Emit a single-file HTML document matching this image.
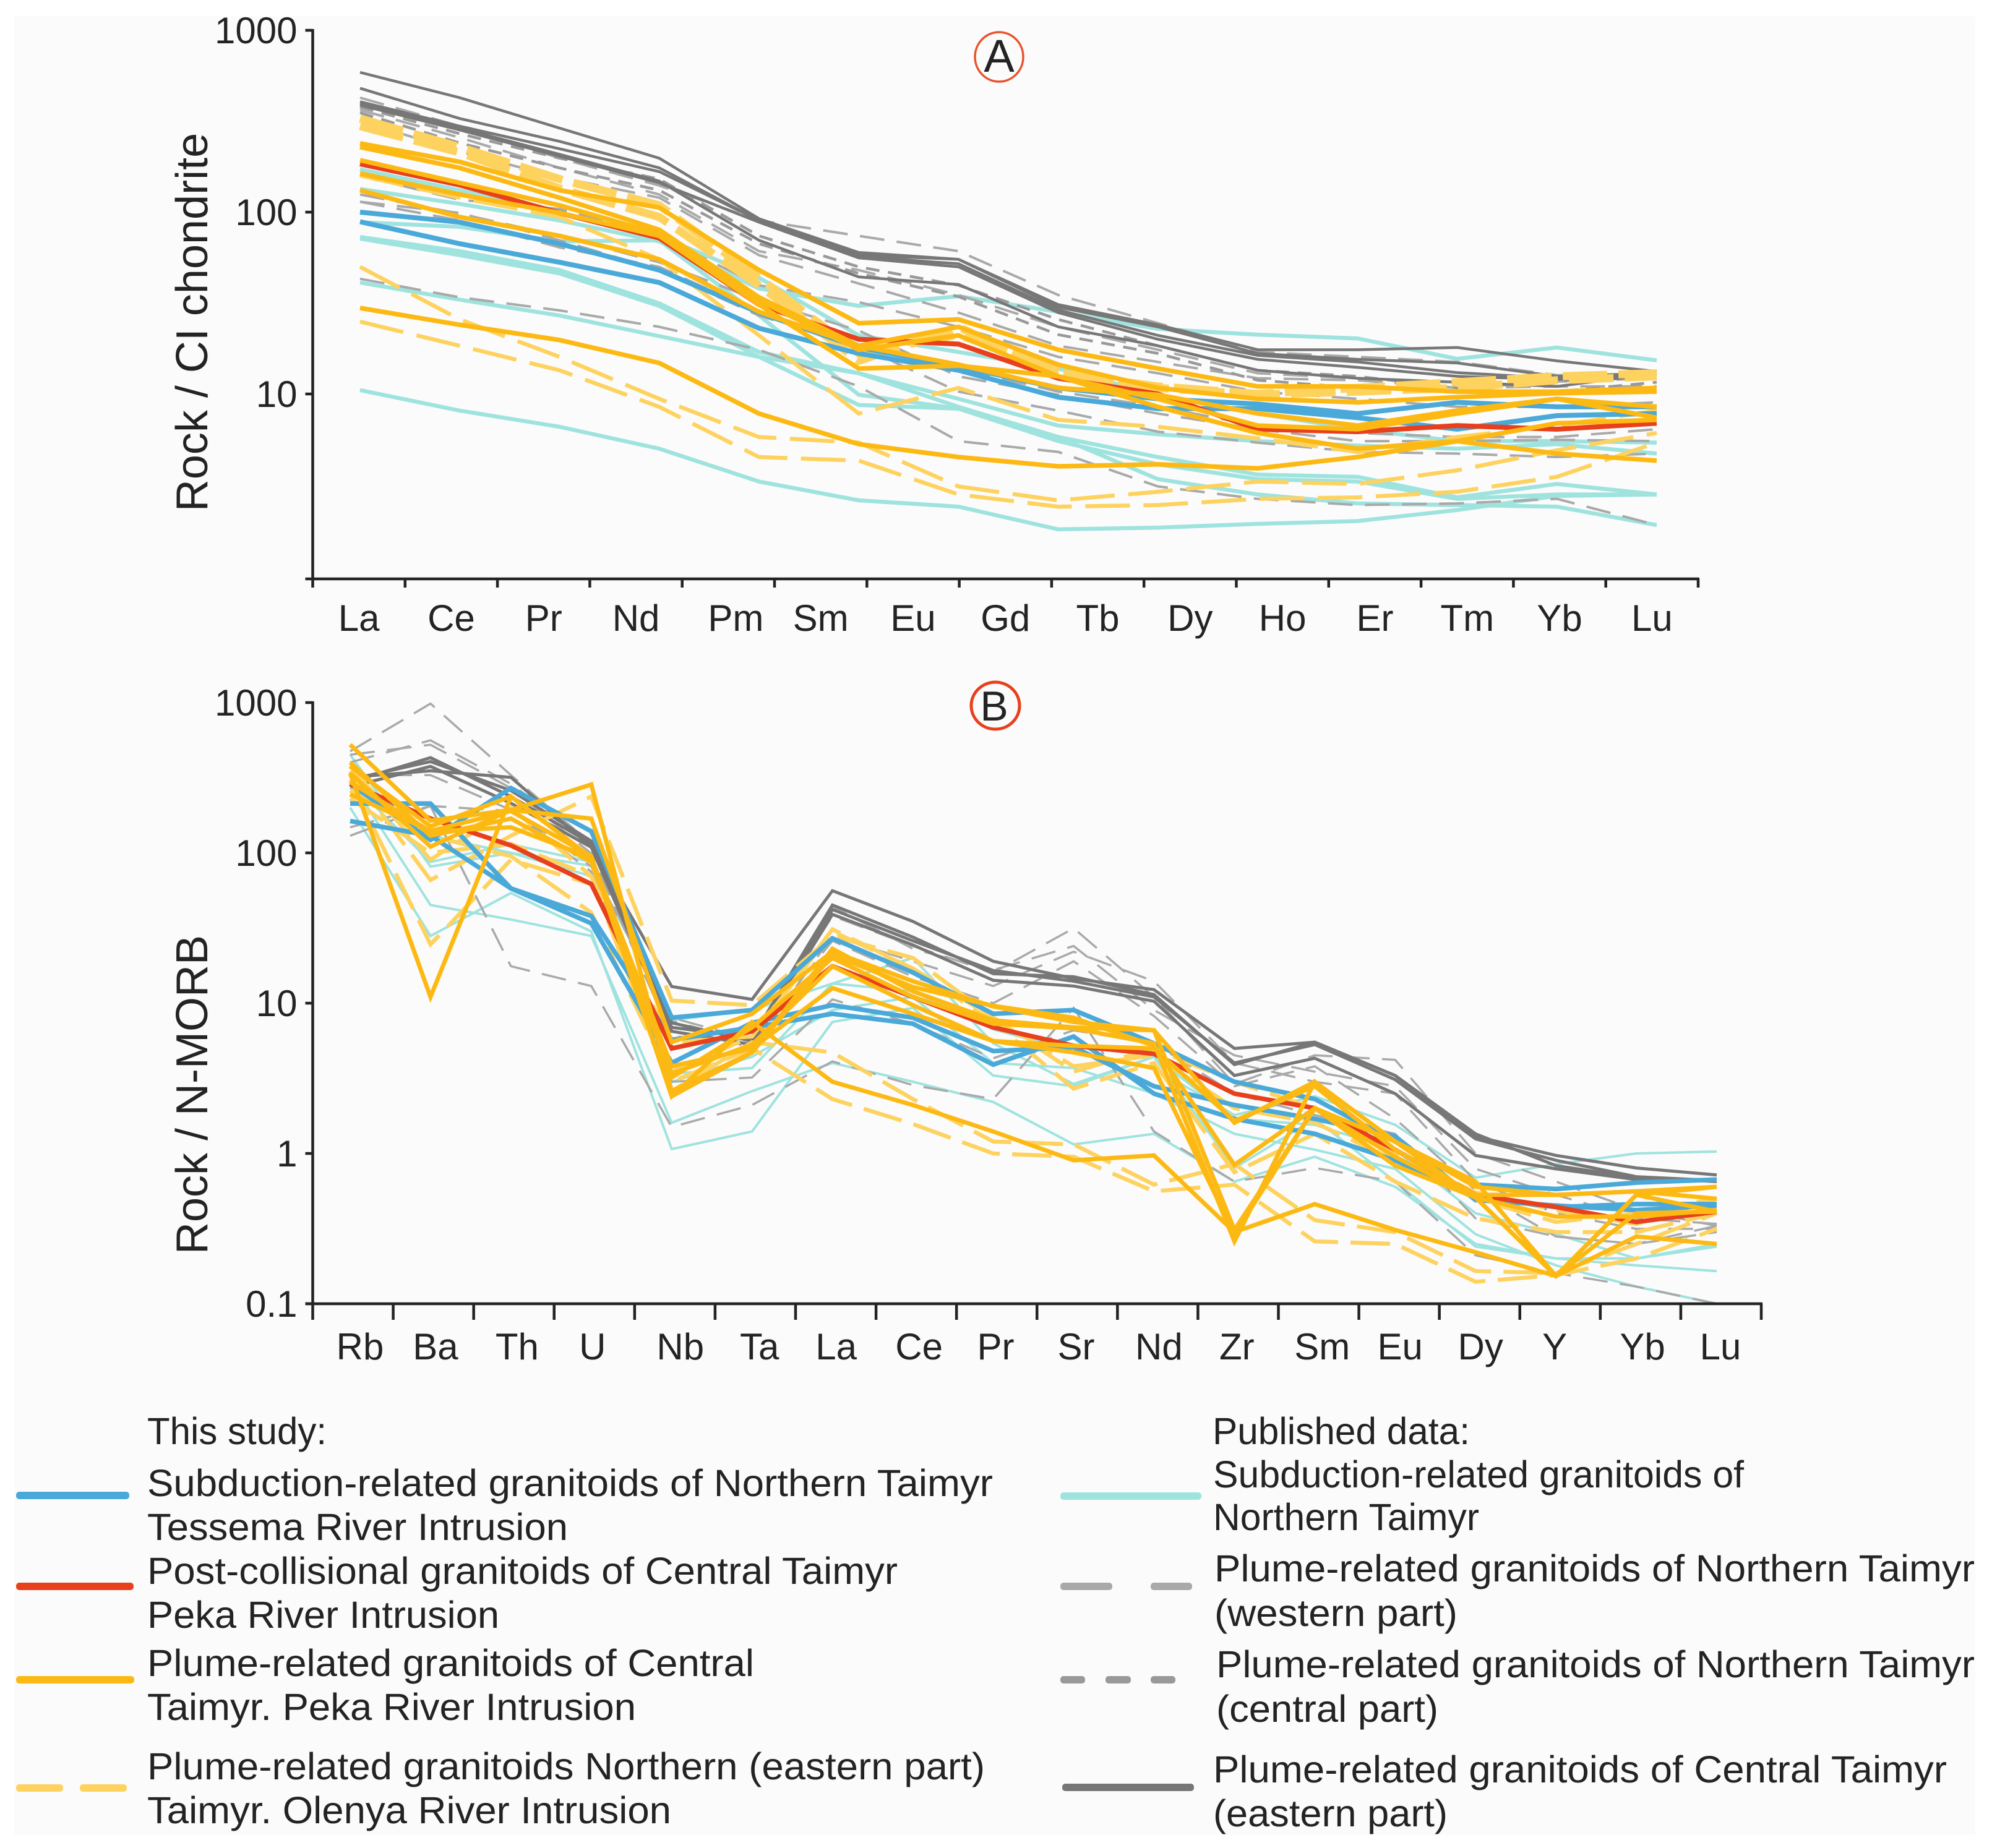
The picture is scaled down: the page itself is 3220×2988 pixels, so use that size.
<!DOCTYPE html>
<html lang="en">
<head>
<meta charset="utf-8">
<title>REE and trace element diagrams</title>
<style>
html,body{margin:0;padding:0;background:#fff;}
svg{display:block;}
text{font-family:"Liberation Sans",sans-serif;fill:#232323;}
</style>
</head>
<body>
<svg id="figure" xmlns="http://www.w3.org/2000/svg" width="3220" height="2988" viewBox="0 0 3220 2988">
  <rect x="23" y="26" width="3170" height="2941" fill="#fbfbfb"/>
  <g id="chart-a"></g>
  <g id="chart-b"></g>

  <g>
    <ellipse cx="1615" cy="92" rx="39" ry="40" fill="none" stroke="#e8532b" stroke-width="3.5"/>
    <text x="1615" y="116" font-size="74" text-anchor="middle">A</text>
  </g>
  <g>
    <ellipse cx="1609" cy="1141" rx="39" ry="38" fill="none" stroke="#e8401c" stroke-width="5"/>
    <text x="1607" y="1165" font-size="68" text-anchor="middle">B</text>
  </g>

  <g font-size="61">
    <text x="238" y="2335" textLength="290" lengthAdjust="spacingAndGlyphs">This study:</text>
    <rect x="26" y="2412" width="183" height="12" rx="5" fill="#4aa9d8"/>
    <text x="238" y="2419" textLength="1367" lengthAdjust="spacingAndGlyphs">Subduction-related granitoids of Northern Taimyr</text>
    <text x="238" y="2490" textLength="680" lengthAdjust="spacingAndGlyphs">Tessema River Intrusion</text>
    <rect x="26" y="2559" width="190" height="12" rx="5" fill="#e8401c"/>
    <text x="238" y="2561" textLength="1213" lengthAdjust="spacingAndGlyphs">Post-collisional granitoids of Central Taimyr</text>
    <text x="238" y="2632" textLength="569" lengthAdjust="spacingAndGlyphs">Peka River Intrusion</text>
    <rect x="26" y="2710" width="191" height="12" rx="5" fill="#fdb913"/>
    <text x="238" y="2710" textLength="981" lengthAdjust="spacingAndGlyphs">Plume-related granitoids of Central</text>
    <text x="238" y="2781" textLength="790" lengthAdjust="spacingAndGlyphs">Taimyr. Peka River Intrusion</text>
    <rect x="26" y="2885" width="76" height="12" rx="5" fill="#fdd25f"/>
    <rect x="129" y="2885" width="76" height="12" rx="5" fill="#fdd25f"/>
    <text x="238" y="2877" textLength="1354" lengthAdjust="spacingAndGlyphs">Plume-related granitoids Northern (eastern part)</text>
    <text x="238" y="2948" textLength="847" lengthAdjust="spacingAndGlyphs">Taimyr. Olenya River Intrusion</text>

    <text x="1960" y="2335" textLength="416" lengthAdjust="spacingAndGlyphs">Published data:</text>
    <rect x="1714" y="2413" width="228" height="12" rx="5" fill="#9fe3df"/>
    <text x="1961" y="2405" textLength="858" lengthAdjust="spacingAndGlyphs">Subduction-related granitoids of</text>
    <text x="1961" y="2474" textLength="430" lengthAdjust="spacingAndGlyphs">Northern Taimyr</text>
    <rect x="1714" y="2559" width="84" height="12" rx="5" fill="#a9a9a9"/>
    <rect x="1860" y="2559" width="67" height="12" rx="5" fill="#a9a9a9"/>
    <text x="1963" y="2557" textLength="1229" lengthAdjust="spacingAndGlyphs">Plume-related granitoids of Northern Taimyr</text>
    <text x="1963" y="2629" textLength="393" lengthAdjust="spacingAndGlyphs">(western part)</text>
    <rect x="1714" y="2710" width="40" height="12" rx="5" fill="#999"/>
    <rect x="1787" y="2710" width="41" height="12" rx="5" fill="#999"/>
    <rect x="1860" y="2710" width="40" height="12" rx="5" fill="#999"/>
    <text x="1966" y="2712" textLength="1226" lengthAdjust="spacingAndGlyphs">Plume-related granitoids of Northern Taimyr</text>
    <text x="1966" y="2784" textLength="359" lengthAdjust="spacingAndGlyphs">(central part)</text>
    <rect x="1717" y="2884" width="213" height="12" rx="5" fill="#777"/>
    <text x="1961" y="2882" textLength="1186" lengthAdjust="spacingAndGlyphs">Plume-related granitoids of Central Taimyr</text>
    <text x="1961" y="2953" textLength="379" lengthAdjust="spacingAndGlyphs">(eastern part)</text>
  </g>
</svg>

<script>
// ---------- Panel A: Rock / CI chondrite ----------
const aTickLabels = ["La","Ce","Pr","Nd","Pm","Sm","Eu","Gd","Tb","Dy","Ho","Er","Tm","Yb","Lu"];
const aMeasuredElements = ["La","Ce","Pr","Nd","Sm","Eu","Gd","Tb","Dy","Ho","Er","Tm","Yb","Lu"];
const aYTicks = [1000,100,10];
const aYTickLabels = ["1000","100","10"];

const aTeal = [
  [172,132,99,74,43.6,21,17,13.8,9.9,7.8,6.4,5.5,5.5,5.4],
  [134,111,90,69,38,30.5,34.5,28.3,22.8,21.2,20.2,15.6,18,15.3],
  [88,83,69,70,27,9.9,8.3,5.8,4.5,3.6,3.5,2.7,3.2,2.8],
  [73,61,48,31.5,17,13,8.5,5.8,3.4,2.8,2.5,2.45,2.4,1.9],
  [71.5,58,46,30.5,16,8.7,8.3,5.5,4.1,3.4,3.3,2.65,2.8,2.8],
  [41,33,27,20.8,16,13,9.4,6.7,6,5.5,5.2,5,5.3,4.7],
  [10.5,8.1,6.6,5,3.3,2.6,2.4,1.8,1.84,1.93,2,2.3,2.75,2.8]
];
const aGrayDash = [
  [426,297,198,140,90,74,61,35,24.5,17,16,15,12.7,12.3],
  [365,257,175,125,61,48,35,23.4,17.5,13,12.2,10.8,11.7,12.2],
  [318,215,155,120,58,40.5,28,18.4,15,12.2,11.9,10.8,11,11],
  [159,117,104,74,39.6,32,23.4,16,13,10.3,9.4,8.5,8.5,9],
  [114,90,64,50,28,18.4,13.8,10.3,8.5,6.7,6.1,5.8,5.8,6.4],
  [43,34,28.8,23.4,17.5,11,5.5,4.8,3.1,2.65,2.45,2.5,2.65,1.9],
  [114,99,70,48,27,18.4,10.3,8.1,6.2,5.4,4.8,4.7,4.5,4.7],
  [125,98,74,53,32.7,22.3,12.5,9.9,7.8,6.4,5.5,5.5,5.6,5.5]
];
const aShortDash = [
  [378,270,198,152,74,50,39.6,25.7,18.4,13.5,12.5,10.8,11.7,13],
  [352,240,175,132,67,46,34.3,21.2,16.7,11.9,10.8,10.3,10.3,11.6]
];
const aDarkGray = [
  [587,426,290,198,92,60,55,31,24,17.5,17.5,18,15.2,13.3],
  [480,327,245,175,90,58,55,30,23.4,16.7,15.5,14.8,12.5,13],
  [405,297,223,167,90,57,52,29,21,16.3,15,13.1,12.2,13],
  [388,283,203,145,88,56,50,28,20,15.5,14,12.5,12,12.8],
  [396,290,208,148,70,44,40,23.4,18.4,13.5,12.2,11.6,11,13]
];
const aYellowDash = [
  [297,213,135,94,39.6,15.2,23.4,13,11,10,10.8,11.6,12.5,13],
  [327,228,152,109,43.6,16.7,21.2,13.5,10.8,9.9,10.3,10.8,11.9,12.5],
  [159,120,94,55,21,7.8,10.8,7.2,6.6,5.7,4.8,5.8,6.7,8.1],
  [50,25.7,16,9.4,5.8,5.4,3.1,2.6,2.9,3.3,3.2,3.8,4.9,6.1],
  [25,18.4,13.5,8.5,4.5,4.3,2.8,2.4,2.45,2.65,2.7,2.9,3.5,5.4]
];
const aBlue = [
  [100,88,67,48,28,18,14.2,10.8,9.4,8.8,7.8,9,8.5,8.5],
  [88.6,67,53,41,23,16.7,13.5,9.6,8.3,8.3,7.4,6.4,7.6,7.8]
];
const aRed = [
  [184,141,99,72,31,20,18.8,12.2,10,6.4,6.2,6.7,6.4,6.9]
];
const aOrange = [
  [239,189,132,106,48,24.5,25.7,17.5,13.8,11,11,10.3,10.3,10.8],
  [228,175,120,80,34,18.4,23.4,14.5,10.8,9.4,9,9.6,10.1,10.3],
  [193,145,109,76,32.7,17.5,21,12.5,9.4,6.7,6.4,7.8,9.4,8.5],
  [163,125,99,74,31,13.8,14.3,12.5,8.5,6.1,5,5.5,4.7,4.3],
  [132,94,74,55,28.3,18.4,14.5,10.8,9.9,7.8,6.7,8.1,9.4,7.4],
  [29.7,24,19.8,14.8,7.8,5.3,4.5,4,4.1,3.9,4.5,5.5,6.9,7.2]
];

// ---------- Panel B: Rock / N-MORB ----------
const bElements = ["Rb","Ba","Th","U","Nb","Ta","La","Ce","Pr","Sr","Nd","Zr","Sm","Eu","Dy","Y","Yb","Lu"];
const bYTicks = [1000,100,10,1,0.1];
const bYTickLabels = ["1000","100","10","1","0.1"];

const bTeal = [
  [450,81,100,82,7.7,9,13.5,12,6.7,4.8,3.7,1.8,2.4,1.55,0.69,0.85,1,1.03],
  [305,45,36,28,1.6,2.6,4,3,2.2,1.15,1.35,0.65,0.95,0.6,0.25,0.2,0.18,0.165],
  [200,28,54,30,1.07,1.4,7.5,9.3,3.3,2.8,4.4,1.7,1.55,1.06,0.4,0.29,0.2,0.24],
  [300,87,114,87,3.4,3.7,13.5,20,5.4,2.9,4.4,0.8,1.7,0.65,0.24,0.2,0.2,0.25],
  [270,130,100,70,3,4.4,9,11,4,3.7,2.5,1.35,1.06,0.79,0.29,0.18,0.13,0.1]
];
const bGrayDash = [
  [474,985,329,115,7.6,5.5,38,24,16,31.5,11,2.9,4.5,4.2,1,0.65,0.42,0.33],
  [400,561,288,114,7.4,5,28,19,13,22,14,4,3,2.5,0.65,0.4,0.315,0.315],
  [450,524,270,99,6,5.7,26,15,10,19,8.2,2.8,3.8,1.7,0.57,0.28,0.25,0.33],
  [130,205,17.6,13,1.5,2.1,4.1,2.85,2.3,9.3,1.4,0.65,0.8,0.65,0.21,0.16,0.13,0.1],
  [148,205,190,75,3,3.2,10.6,7.3,4.3,6.6,5.4,2.5,1.8,1.35,0.37,0.28,0.25,0.3],
  [329,329,193,81,8,5.7,44,23,16.6,24,9,4.5,3.5,2.8,0.79,0.53,0.37,0.34]
];
const bDarkGray = [
  [318,352,318,109,12.9,10.6,56,35,19,14.6,12.3,5,5.5,3.3,1.3,0.97,0.8,0.72],
  [296,430,237,115,6.9,5.9,45,27.5,15.7,15,11.4,3.9,5.5,3.3,1.35,0.83,0.69,0.65],
  [275,376,214,109,6.5,5.3,39,24.4,14.2,13,10.3,3.3,4.3,2.5,0.97,0.79,0.67,0.67],
  [308,405,260,120,7.4,5.6,42,26,16.5,14,11,4,5.3,3.1,1.25,0.9,0.7,0.66]
];
const bYellowDash = [
  [305,24.6,90,62,5.5,6,30,17,7.5,2.7,4,0.75,1.35,0.65,0.37,0.3,0.3,0.4],
  [350,66,130,237,10.4,9.7,28,20,8,3.8,4.5,2,1.6,0.9,0.5,0.35,0.4,0.5],
  [260,130,95,40,3,5,2.3,1.57,1,0.95,0.56,0.62,0.26,0.25,0.14,0.155,0.2,0.315],
  [230,100,115,70,2.6,5.5,4.7,2.3,1.2,1.15,0.62,0.85,0.36,0.3,0.165,0.16,0.25,0.4],
  [380,90,200,70,3.5,6,31,17,8,3.5,5,3,2,1,0.55,0.42,0.34,0.5]
];
const bBlue = [
  [213,213,58,34,4,7.4,9.7,8,4.8,5.1,2.8,2.1,1.7,1.3,0.49,0.45,0.42,0.45],
  [163,130,58,38,5.7,6.9,8.5,7.3,3.9,6,2.5,1.7,1.35,0.9,0.51,0.44,0.46,0.46],
  [288,122,270,139,8,9,27,16,8.5,9,5.4,3,2.3,1.2,0.62,0.58,0.64,0.67]
];
const bRed = [
  [288,169,112,62,5,6.5,17.6,11,6.9,5.2,4.6,2.5,2,1.06,0.53,0.44,0.35,0.41]
];
const bOrange = [
  [525,164,193,169,5.5,8.5,22,14,9.5,7.5,6.6,1.6,3,1.2,0.6,0.53,0.56,0.6],
  [340,110,193,285,2.6,4.7,23,12,7.7,6.9,6.6,0.31,2,0.95,0.51,0.153,0.53,0.6],
  [340,11,237,93,3.2,6.9,20,11,7.3,6.8,5.4,0.26,3,1.2,0.51,0.153,0.4,0.41],
  [400,130,169,87,3.4,5.3,17.6,9.7,5.6,4.7,3.7,0.29,2,0.83,0.51,0.38,0.38,0.42],
  [296,139,148,93,3.8,5,12.6,8.5,5.6,5.2,5,1.65,2.8,1.06,0.53,0.53,0.56,0.5],
  [245,140,190,95,2.4,7.5,3,2.1,1.4,0.9,0.97,0.3,0.46,0.31,0.22,0.153,0.28,0.25],
  [376,150,237,93,2.4,4.7,21,12.8,9.6,8,5.2,0.84,2,1.2,0.65,0.153,0.53,0.41]
];

// ---------- Axis functions ----------
const NS = "http://www.w3.org/2000/svg";
function xA(i){ return 582 + i * (2678 - 582) / (aMeasuredElements.length - 1); }
function yA(v){ return 49 + (3 - Math.log10(v)) * 294; }
function xB(i){ return 566 + i * (2775 - 566) / (bElements.length - 1); }
function yB(v){ return 1136 + (3 - Math.log10(v)) * 243; }

function make(tag, parent, props){
  const el = document.createElementNS(NS, tag);
  for (const k in props) el.setAttribute(k, props[k]);
  parent.appendChild(el);
  return el;
}

function drawSeries(parent, rows, xFn, yFn, style, label){
  rows.forEach(function(values, idx){
    const pts = values.map(function(v, i){ return xFn(i).toFixed(1) + "," + yFn(v).toFixed(1); }).join(" ");
    const line = make("polyline", parent, {
      points: pts, fill: "none", stroke: style.color, "stroke-width": style.width,
      "stroke-linejoin": "miter", "stroke-linecap": "butt"
    });
    if (style.dash) line.setAttribute("stroke-dasharray", style.dash);
    
    
  });
}

function drawAxes(parent, cfg){
  const axis = make("g", parent, {stroke: "#232323", "stroke-width": 4.5, fill: "none"});
  
  
  const yLine = make("line", axis, {x1: cfg.left, x2: cfg.left, y1: cfg.top - 2, y2: cfg.bottom + 2});
  
  
  const xLine = make("line", axis, {x1: cfg.left - 12, x2: cfg.right + 2, y1: cfg.bottom, y2: cfg.bottom});
  
  

  cfg.yTicks.forEach(function(v, i){
    const y = cfg.yFn(v);
    const tick = make("line", axis, {x1: cfg.left - 12, x2: cfg.left, y1: y, y2: y});
    
    
    const t = make("text", parent, {x: cfg.left - 25, y: y + 21, "font-size": 60, "text-anchor": "end"});
    t.textContent = cfg.yLabels[i];
    
    
  });

  const bandW = (cfg.right - cfg.left) / cfg.xLabels.length;
  for (let i = 0; i <= cfg.xLabels.length; i++) {
    const x = cfg.left + i * bandW;
    const tick = make("line", axis, {x1: x, x2: x, y1: cfg.bottom, y2: cfg.bottom + cfg.tickLen});
    
    
  }
  cfg.xLabels.forEach(function(name, i){
    const t = make("text", parent, {x: cfg.labelX(i, bandW), y: cfg.labelY, "font-size": 60, "text-anchor": "middle"});
    t.textContent = name;
    
    
  });

  const title = make("text", parent, {
    x: 0, y: 0, "font-size": 72, "text-anchor": "middle",
    transform: "translate(" + cfg.titleX + "," + cfg.titleY + ") rotate(-90)"
  });
  title.textContent = cfg.title;
  
  
}

// ---------- Panel A render ----------
const gA = document.getElementById("chart-a");
drawSeries(gA, aTeal, xA, yA, {color:"#9fe3df", width:6.5}, "a-published-subduction");
drawSeries(gA, aGrayDash, xA, yA, {color:"#a9a9a9", width:4, dash:"40 20"}, "a-plume-western");
drawSeries(gA, aShortDash, xA, yA, {color:"#999999", width:4.5, dash:"22 14"}, "a-plume-central");
drawSeries(gA, aDarkGray, xA, yA, {color:"#777777", width:4.5}, "a-plume-eastern");
drawSeries(gA, aYellowDash.slice(0,2), xA, yA, {color:"#fdd25f", width:13, dash:"72 18"}, "a-olenya-thick");
drawSeries(gA, aYellowDash.slice(2), xA, yA, {color:"#fdd25f", width:6.5, dash:"72 22"}, "a-olenya");
drawSeries(gA, aBlue, xA, yA, {color:"#4aa9d8", width:8}, "a-tessema");
drawSeries(gA, aRed, xA, yA, {color:"#e8401c", width:8}, "a-post-collisional");
drawSeries(gA, aOrange, xA, yA, {color:"#fdb913", width:7.5}, "a-peka");
drawAxes(gA, {
  prefix:"a", left:505.5, right:2745, top:49, bottom:936, tickLen:14,
  yTicks:aYTicks, yLabels:aYTickLabels, yFn:yA, xLabels:aTickLabels,
  labelX:function(i,w){ return 505.5 + (i + 0.5) * w + (i === 4 ? 12 : 0); }, labelY:1020,
  title:"Rock / CI chondrite", titleX:335, titleY:521
});

// ---------- Panel B render ----------
const gB = document.getElementById("chart-b");
const bLabelNudge = [16,8,10,2,14,12,6,10,4,4,8,4,12,8,8,-2,10,6];
drawSeries(gB, bTeal, xB, yB, {color:"#9fe3df", width:4}, "b-published-subduction");
drawSeries(gB, bGrayDash, xB, yB, {color:"#a9a9a9", width:3.5, dash:"40 20"}, "b-plume-western");
drawSeries(gB, bDarkGray, xB, yB, {color:"#777777", width:5}, "b-plume-eastern");
drawSeries(gB, bYellowDash, xB, yB, {color:"#fdd25f", width:6.5, dash:"64 20"}, "b-olenya");
drawSeries(gB, bBlue, xB, yB, {color:"#4aa9d8", width:7.5}, "b-tessema");
drawSeries(gB, bRed, xB, yB, {color:"#e8401c", width:7.5}, "b-post-collisional");
drawSeries(gB, bOrange, xB, yB, {color:"#fdb913", width:7}, "b-peka");
drawAxes(gB, {
  prefix:"b", left:505.5, right:2847, top:1136, bottom:2108, tickLen:26,
  yTicks:bYTicks, yLabels:bYTickLabels, yFn:yB, xLabels:bElements,
  labelX:function(i){ return xB(i) + bLabelNudge[i]; }, labelY:2198,
  title:"Rock / N-MORB", titleX:335, titleY:1770
});
</script>
</body>
</html>
